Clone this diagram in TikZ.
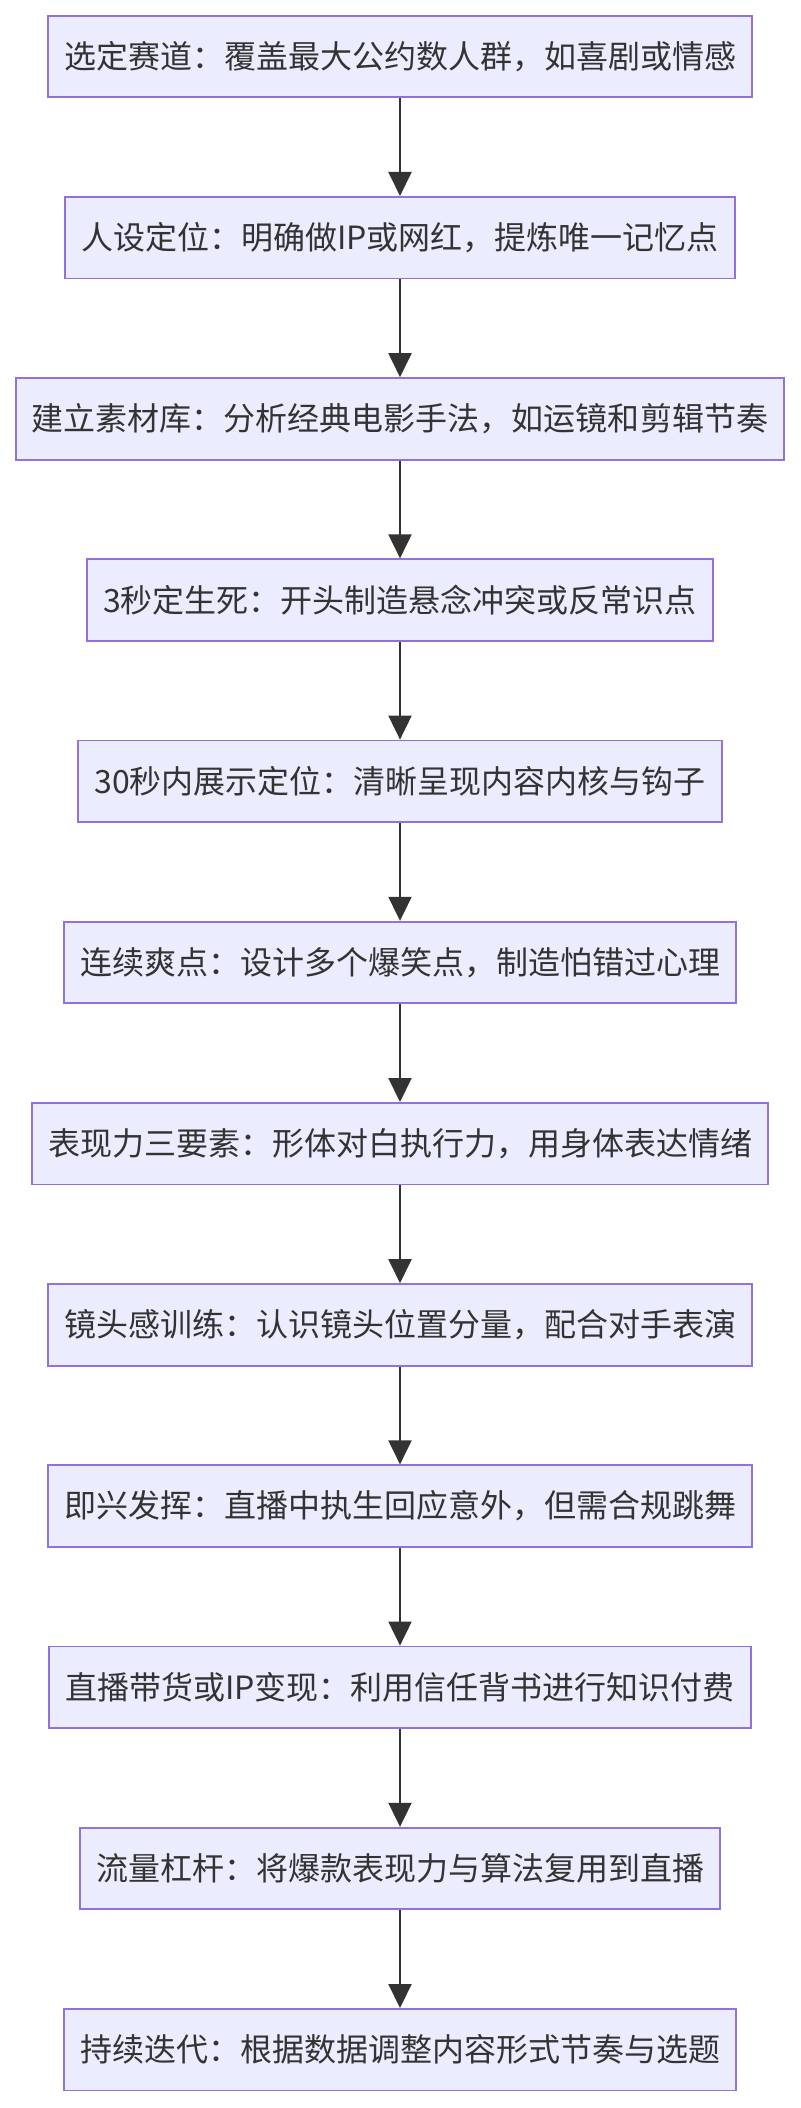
\documentclass[tikz,border=0pt]{standalone}
\usepackage{fontspec}
\setmainfont{Noto Sans CJK SC}
\usetikzlibrary{arrows.meta}
\definecolor{stepfill}{HTML}{ECECFF}
\definecolor{stepline}{HTML}{9370DB}
\definecolor{inkgrey}{HTML}{333333}
\tikzset{stepbox/.style={draw=stepline,fill=stepfill,line width=0.9pt,text=inkgrey,
 inner xsep=8pt,inner ysep=0pt,minimum height=40.8pt,font=\fontsize{16pt}{19pt}\selectfont},
 flow/.style={-{Triangle[width=11.5pt,length=12pt]},line width=1pt,draw=inkgrey}}

\begin{document}
\begin{tikzpicture}[x=0.5pt,y=-0.5pt]
\useasboundingbox (0,0) rectangle (800,2108);
\foreach \i/\txt in {0/选定赛道：覆盖最大公约数人群，如喜剧或情感,
 1/人设定位：明确做IP或网红，提炼唯一记忆点,
 2/建立素材库：分析经典电影手法，如运镜和剪辑节奏,
 3/3秒定生死：开头制造悬念冲突或反常识点,
 4/30秒内展示定位：清晰呈现内容内核与钩子,
 5/连续爽点：设计多个爆笑点，制造怕错过心理,
 6/表现力三要素：形体对白执行力，用身体表达情绪,
 7/镜头感训练：认识镜头位置分量，配合对手表演,
 8/即兴发挥：直播中执生回应意外，但需合规跳舞,
 9/直播带货或IP变现：利用信任背书进行知识付费,
 10/流量杠杆：将爆款表现力与算法复用到直播,
 11/持续迭代：根据数据调整内容形式节奏与选题} {
\node[stepbox] (s\i) at (400,{56.5+181.2*\i}) {\txt};
}
\foreach \i [evaluate=\i as \j using int(\i+1)] in {0,...,10} {
\draw[flow] (s\i.south) -- (s\j.north);
}
\end{tikzpicture}
\end{document}
